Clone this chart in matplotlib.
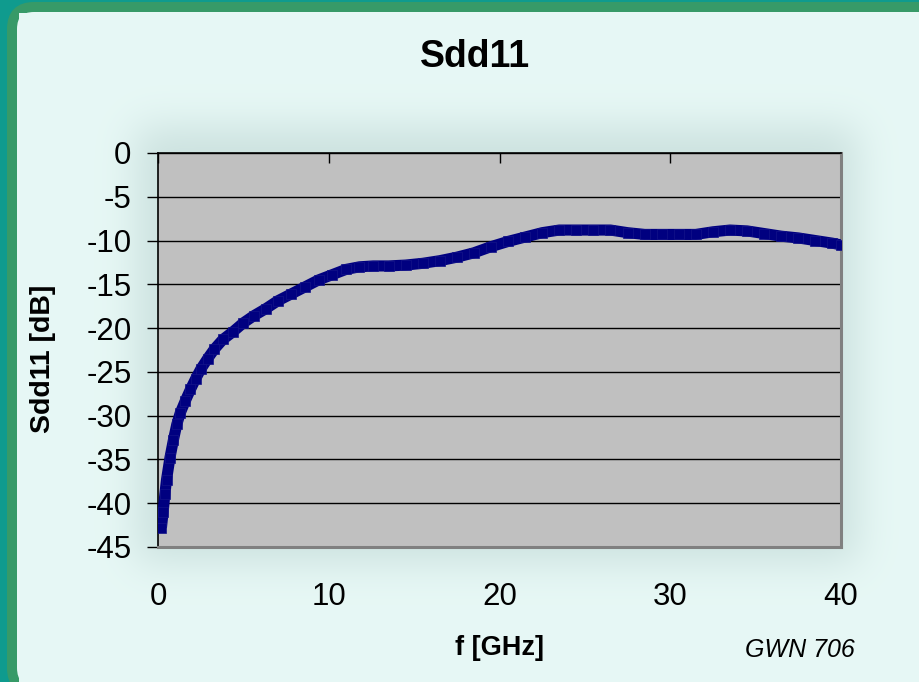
import numpy as np
import matplotlib
matplotlib.use("Agg")
import matplotlib.pyplot as plt
from matplotlib.patches import FancyBboxPatch

# ------ data
freq_ghz = [0.2, 0.3, 0.4, 0.5, 0.7, 0.9, 1.1, 1.3, 1.6, 1.9, 2.2, 2.5, 2.9, 3.3,
            3.8, 4.4, 5.0, 5.6, 6.3, 7.0, 7.8, 8.6, 9.4, 10.2, 11.0, 11.8, 12.6,
            13.5, 14.5, 15.5, 16.5, 17.5, 18.5, 19.5, 20.5, 21.5, 22.5, 23.5,
            24.5, 25.5, 26.5, 27.5, 28.5, 29.5, 30.5, 31.5, 32.5, 33.5, 34.5,
            35.5, 36.5, 37.5, 38.5, 39.5, 40.0]
sdd11_db = [-42.8, -41.0, -39.0, -37.3, -34.8, -32.8, -31.0, -29.7, -28.3, -27.0,
            -25.8, -24.7, -23.5, -22.4, -21.3, -20.4, -19.4, -18.6, -17.8, -16.9,
            -16.1, -15.3, -14.5, -13.9, -13.3, -13.0, -12.9, -12.9, -12.8, -12.6,
            -12.3, -11.9, -11.4, -10.7, -10.1, -9.6, -9.1, -8.8, -8.8, -8.8, -8.8,
            -9.1, -9.3, -9.3, -9.3, -9.3, -9.0, -8.8, -8.9, -9.2, -9.5, -9.7,
            -10.0, -10.3, -10.5]
x_ticks = [0, 10, 20, 30, 40]
y_ticks = [0, -5, -10, -15, -20, -25, -30, -35, -40, -45]

plt.rcParams['font.family'] = ['Liberation Sans', 'DejaVu Sans']

W, H = 920, 682
fig = plt.figure(figsize=(W / 100, H / 100), dpi=100)
fig.patch.set_facecolor('#0f9b8e')

# green rounded frame (runs off the right and bottom edge, like the slide crop)
px = 1 / 100.0
frame = FancyBboxPatch((12 * px, -8 * px), 960 * px, 683 * px,
                       boxstyle="round,pad=0,rounding_size=0.22",
                       transform=fig.dpi_scale_trans, facecolor='#e7f8f5',
                       edgecolor='#379a68', linewidth=7.2, zorder=0)
fig.patches.append(frame)

# soft glow behind the plot area
bg = fig.add_axes([19 / W, 0, 1 - 19 / W, 1 - 13 / H], zorder=0.5)
bg.axis('off')
ny, nx = 340, 460
yy, xx = np.mgrid[0:ny, 0:nx]
mask = ((xx > 0.13 * nx) & (xx < 0.93 * nx) & (yy > 0.17 * ny) & (yy < 0.82 * ny)).astype(float)
k = np.exp(-np.linspace(-3, 3, 61) ** 2 / 2)
k /= k.sum()
blur = np.apply_along_axis(lambda r: np.convolve(r, k, mode='same'), 1, mask)
blur = np.apply_along_axis(lambda c: np.convolve(c, k, mode='same'), 0, blur)
base = np.array([0.905, 0.972, 0.962])
dark = np.array([0.80, 0.885, 0.875])
img = base[None, None, :] * (1 - blur[..., None]) + dark[None, None, :] * blur[..., None]
bg.imshow(img, aspect='auto', extent=[0, 1, 0, 1], interpolation='bilinear')
bg.set_xlim(0, 1)
bg.set_ylim(0, 1)

ax = fig.add_axes([158 / W, 1 - 547 / H, (841 - 158) / W, (547 - 153) / H], zorder=2)
ax.set_facecolor('#c0c0c0')

ax.plot(freq_ghz, sdd11_db, color='#000080', linewidth=8, solid_capstyle='butt', zorder=3)
ax.plot(freq_ghz, sdd11_db, linestyle='none', marker='s', markersize=7.5,
        markerfacecolor='#000080', markeredgecolor='#14148a', markeredgewidth=0.5, zorder=4)

ax.set_xlim(0, 40)
ax.set_ylim(-45, 0)
ax.set_xticks(x_ticks)
ax.set_yticks(y_ticks)
ax.set_yticklabels([str(v) for v in y_ticks])
ax.grid(axis='y', color='black', linewidth=1)
ax.set_axisbelow(True)

for s in ['right', 'bottom']:
    ax.spines[s].set_color('#808080')
    ax.spines[s].set_linewidth(2.2)
ax.spines['top'].set_color('black')
ax.spines['top'].set_linewidth(1.2)
ax.spines['left'].set_color('black')
ax.spines['left'].set_linewidth(1.2)

ax.tick_params(axis='x', top=True, bottom=False, direction='in', length=7,
               width=1, labeltop=False, labelbottom=True, labelsize=22.5, pad=25)
ax.tick_params(axis='y', direction='out', length=8, width=1, labelsize=22.5, pad=11)

fig.text(475 / W, 1 - 57 / H, 'Sdd11', fontsize=27, fontweight='bold',
         ha='center', va='center', zorder=3)
fig.text(500 / W, 1 - 648 / H, 'f [GHz]', fontsize=19.5, fontweight='bold',
         ha='center', va='center', zorder=3)
fig.text(43 / W, 1 - 359 / H, 'Sdd11 [dB]', fontsize=20.5, fontweight='bold',
         rotation=90, ha='center', va='center', zorder=3)
fig.text(800 / W, 1 - 650 / H, 'GWN 706', fontsize=18, fontstyle='italic',
         ha='center', va='center', zorder=3)

fig.savefig('out.png', dpi=100, facecolor=fig.get_facecolor())
